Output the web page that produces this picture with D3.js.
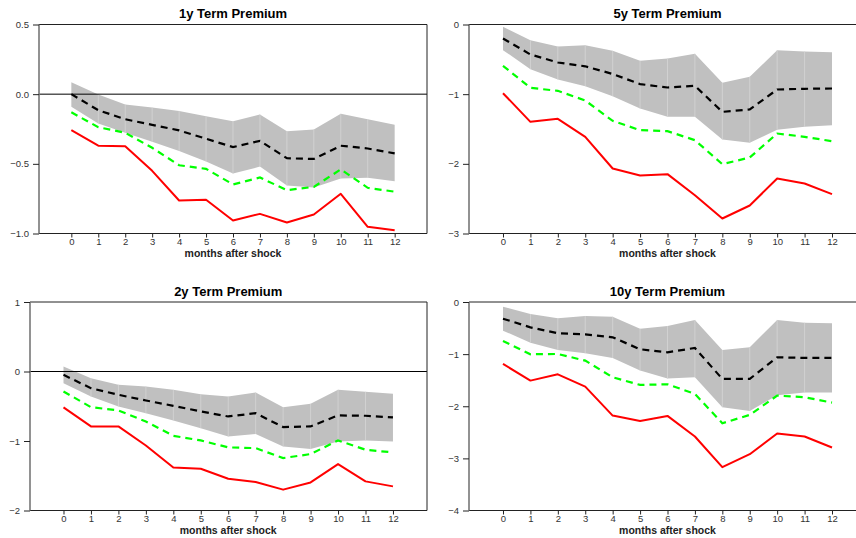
<!DOCTYPE html>
<html>
<head>
<meta charset="utf-8">
<script src="https://cdn.jsdelivr.net/npm/d3@7"></script>
<style>
  body { margin: 0; background: #fff; }
  text { font-family: "Liberation Sans", Arial, sans-serif; }
</style>
</head>
<body>
<script>
// horizon (months after shock)
var months = [0,1,2,3,4,5,6,7,8,9,10,11,12];

// 1y term premium
var med1y   = [0.0,-0.115,-0.18,-0.22,-0.26,-0.32,-0.38,-0.335,-0.46,-0.465,-0.37,-0.39,-0.425];
var hi1y    = [0.086,-0.002,-0.074,-0.096,-0.12,-0.158,-0.194,-0.146,-0.266,-0.254,-0.141,-0.18,-0.22];
var lo1y    = [-0.09,-0.21,-0.277,-0.342,-0.407,-0.483,-0.57,-0.52,-0.655,-0.67,-0.605,-0.6,-0.625];
var green1y = [-0.13,-0.237,-0.277,-0.385,-0.51,-0.536,-0.648,-0.598,-0.689,-0.665,-0.54,-0.672,-0.7];
var red1y   = [-0.258,-0.37,-0.373,-0.55,-0.763,-0.758,-0.907,-0.859,-0.921,-0.864,-0.715,-0.952,-0.976];

// 5y term premium
var med5y   = [-0.2,-0.43,-0.545,-0.6,-0.71,-0.856,-0.904,-0.88,-1.254,-1.22,-0.933,-0.923,-0.919];
var hi5y    = [-0.033,-0.225,-0.316,-0.297,-0.378,-0.52,-0.488,-0.421,-0.837,-0.751,-0.368,-0.388,-0.397];
var lo5y    = [-0.368,-0.641,-0.789,-0.885,-1.029,-1.206,-1.325,-1.325,-1.651,-1.699,-1.512,-1.469,-1.445];
var green5y = [-0.593,-0.909,-0.952,-1.091,-1.383,-1.517,-1.531,-1.66,-2.005,-1.909,-1.565,-1.612,-1.675];
var red5y   = [-0.986,-1.397,-1.354,-1.612,-2.067,-2.167,-2.148,-2.45,-2.785,-2.598,-2.211,-2.282,-2.435];

// 2y term premium
var med2y   = [-0.048,-0.24,-0.335,-0.417,-0.494,-0.575,-0.647,-0.6,-0.8,-0.79,-0.632,-0.637,-0.661];
var hi2y    = [0.072,-0.096,-0.19,-0.216,-0.264,-0.326,-0.36,-0.302,-0.513,-0.465,-0.264,-0.292,-0.321];
var lo2y    = [-0.168,-0.36,-0.503,-0.6,-0.704,-0.815,-0.934,-0.9,-1.078,-1.116,-1.006,-0.992,-1.006];
var green2y = [-0.287,-0.513,-0.56,-0.719,-0.925,-0.992,-1.092,-1.102,-1.246,-1.188,-0.992,-1.126,-1.164];
var red2y   = [-0.517,-0.79,-0.79,-1.064,-1.38,-1.4,-1.543,-1.59,-1.7,-1.596,-1.332,-1.581,-1.653];

// 10y term premium
var med10y   = [-0.32,-0.486,-0.6,-0.62,-0.677,-0.907,-0.965,-0.882,-1.476,-1.476,-1.06,-1.073,-1.073];
var hi10y    = [-0.089,-0.23,-0.313,-0.268,-0.281,-0.511,-0.46,-0.345,-0.92,-0.869,-0.345,-0.396,-0.409];
var lo10y    = [-0.55,-0.78,-0.92,-0.984,-1.073,-1.316,-1.47,-1.444,-2.019,-2.09,-1.789,-1.738,-1.738];
var green10y = [-0.748,-1.003,-0.997,-1.125,-1.444,-1.591,-1.578,-1.764,-2.326,-2.166,-1.796,-1.827,-1.93];
var red10y   = [-1.188,-1.508,-1.387,-1.623,-2.179,-2.281,-2.185,-2.581,-3.169,-2.92,-2.524,-2.581,-2.792];

var ticks1y = [-1.0,-0.5,0.0,0.5];
var ticks5y = [-3,-2,-1,0];
var ticks2y = [-2,-1,0,1];
var ticks10y = [-4,-3,-2,-1,0];

var width = 856, height = 538;

var svg = d3.select("body").append("svg")
    .attr("width", width)
    .attr("height", height);

var panels = [
  {title: "1y Term Premium", med: med1y, hi: hi1y, lo: lo1y, green: green1y, red: red1y,
   ticks: ticks1y, fmt: ".1f", ydom: [-1, 0.5], xdom: [-1.2, 13.2],
   left: 39, right: 427, top: 24.5, bottom: 233.5, titleY: 18, labelY: 257},
  {title: "5y Term Premium", med: med5y, hi: hi5y, lo: lo5y, green: green5y, red: red5y,
   ticks: ticks5y, fmt: "d", ydom: [-3, 0], xdom: [-1.24, 13.24],
   left: 469, right: 866, top: 24.5, bottom: 233.5, titleY: 18, labelY: 257},
  {title: "2y Term Premium", med: med2y, hi: hi2y, lo: lo2y, green: green2y, red: red2y,
   ticks: ticks2y, fmt: "d", ydom: [-2, 1], xdom: [-1.22, 13.24],
   left: 30, right: 427, top: 302, bottom: 510.5, titleY: 296, labelY: 534},
  {title: "10y Term Premium", med: med10y, hi: hi10y, lo: lo10y, green: green10y, red: red10y,
   ticks: ticks10y, fmt: "d", ydom: [-4, 0], xdom: [-1.24, 13.24],
   left: 469, right: 866, top: 302, bottom: 510.5, titleY: 296, labelY: 534}
];

panels.forEach(function(p){
  var x = d3.scaleLinear().domain(p.xdom).range([p.left, p.right]);
  var y = d3.scaleLinear().domain(p.ydom).range([p.bottom, p.top]);
  var g = svg.append("g");

  // confidence band
  var area = d3.area()
      .x(function(d, i){ return x(months[i]); })
      .y0(function(d, i){ return y(p.lo[i]); })
      .y1(function(d){ return y(d); });
  g.append("path")
      .datum(p.hi)
      .attr("fill", "#c0c0c0")
      .attr("d", area);

  // faint seams between band segments
  g.selectAll(".seam")
      .data(months.slice(1, -1))
      .enter().append("line")
      .attr("x1", function(d){ return x(d); })
      .attr("x2", function(d){ return x(d); })
      .attr("y1", function(d){ return y(p.hi[d]); })
      .attr("y2", function(d){ return y(p.lo[d]); })
      .attr("stroke", "#d6d6d6")
      .attr("stroke-width", 0.8);

  // zero line
  if (p.ydom[1] > 0) {
    g.append("line")
        .attr("x1", p.left).attr("x2", p.right)
        .attr("y1", y(0)).attr("y2", y(0))
        .attr("stroke", "#000").attr("stroke-width", 1);
  }

  var line = function(vals){
    return d3.line()
        .x(function(d, i){ return x(months[i]); })
        .y(function(d){ return y(d); })(vals);
  };

  g.append("path")
      .attr("d", line(p.red))
      .attr("fill", "none").attr("stroke", "#ff0000")
      .attr("stroke-width", 2).attr("stroke-linejoin", "round");

  g.append("path")
      .attr("d", line(p.green))
      .attr("fill", "none").attr("stroke", "#00ff00")
      .attr("stroke-width", 2.2).attr("stroke-dasharray", "7,5");

  g.append("path")
      .attr("d", line(p.med))
      .attr("fill", "none").attr("stroke", "#000")
      .attr("stroke-width", 2.2).attr("stroke-dasharray", "7,5");

  // frame
  g.append("path")
      .attr("d", "M" + p.left + "," + p.top + "H" + p.right + "V" + p.bottom + "H" + p.left)
      .attr("fill", "none").attr("stroke", "#222").attr("stroke-width", 1);

  // y axis
  var yAxis = g.append("g")
      .attr("transform", "translate(" + p.left + ",0)")
      .call(d3.axisLeft(y).tickValues(p.ticks).tickFormat(d3.format(p.fmt)).tickSize(6).tickPadding(4));
  yAxis.select(".domain")
      .attr("d", "M0," + p.top + "V" + p.bottom)
      .attr("stroke", "#777").attr("stroke-width", 1.6);
  yAxis.selectAll(".tick line").attr("stroke", "#222");
  yAxis.selectAll("text").attr("font-size", 9.5).attr("fill", "#333")
      .style("font-family", "'Liberation Sans', Arial, sans-serif");

  // x axis
  var xAxis = g.append("g")
      .attr("transform", "translate(0," + p.bottom + ")")
      .call(d3.axisBottom(x).tickValues(months).tickFormat(d3.format("d")).tickSize(4).tickPadding(1));
  xAxis.select(".domain").remove();
  xAxis.selectAll(".tick line").attr("stroke", "#222");
  xAxis.selectAll("text").attr("font-size", 9.5).attr("fill", "#333")
      .style("font-family", "'Liberation Sans', Arial, sans-serif");

  var mid = x(6);

  g.append("text")
      .attr("x", mid).attr("y", p.titleY)
      .attr("text-anchor", "middle")
      .attr("font-size", 13).attr("font-weight", "bold")
      .text(p.title);

  g.append("text")
      .attr("x", mid).attr("y", p.labelY)
      .attr("text-anchor", "middle")
      .attr("font-size", 10.5).attr("font-weight", "bold")
      .attr("fill", "#222")
      .text("months after shock");
});
</script>
</body>
</html>
